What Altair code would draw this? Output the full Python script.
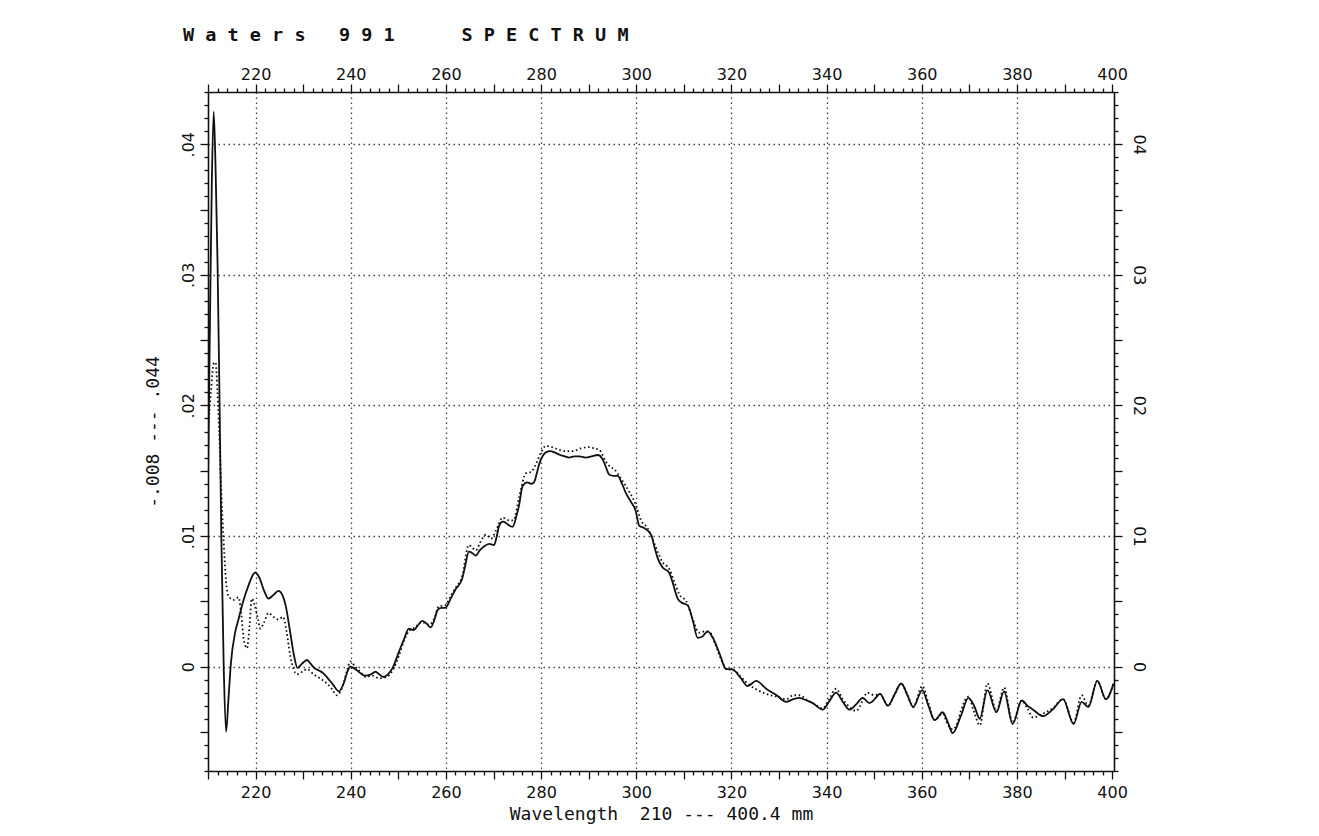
import altair as alt
import pandas as pd

# ---- data (wavelength nm, absorbance) ----
solid_nm = [210.0, 210.4, 210.8, 211.2, 211.6, 212.0, 212.4, 212.8, 213.3, 213.8, 214.3, 214.8,
            215.7, 216.4, 217.4, 218.5, 219.9, 220.8, 221.8, 222.7, 223.8, 224.8, 225.6, 226.3,
            227.2, 228.0, 228.8, 229.7, 230.8, 231.6, 232.3, 233.3, 234.2, 235.2, 236.3, 237.5,
            238.5, 239.3, 239.9, 240.5, 241.0, 242.0, 243.1, 244.2, 245.2, 246.0, 246.9, 247.8,
            248.8, 250.1, 251.2, 252.2, 253.2, 254.2, 255.0, 255.9, 256.8, 257.6, 258.2, 259.0,
            259.9, 261.0, 262.0, 263.4, 264.1, 264.8, 265.5, 266.3, 267.1, 268.0, 269.1, 270.1,
            270.7, 271.2, 272.0, 272.6, 273.3, 274.0, 274.8, 275.4, 276.1, 277.1, 278.0, 278.5,
            279.1, 279.6, 280.3, 281.0, 282.0, 282.8, 284.0, 285.0, 285.9, 287.0, 288.0, 289.4,
            290.6, 291.9, 292.9, 293.6, 294.3, 295.2, 296.1, 297.0, 297.8, 298.9, 299.9, 300.6,
            301.7, 303.1, 303.8, 304.5, 305.5, 306.9, 307.6, 308.7, 309.5, 310.8, 311.9, 312.9,
            313.9, 315.0, 316.1, 317.5, 318.9, 319.8, 320.6, 322.0, 323.4, 325.2, 327.3, 329.5,
            331.5, 333.0, 334.3, 335.8, 337.1, 339.2, 340.5, 342.0, 343.4, 344.8, 346.2, 347.6,
            349.0, 350.1, 351.2, 352.9, 354.2, 355.7, 357.0, 358.2, 360.1, 361.4, 362.7, 364.4,
            365.4, 366.5, 368.2, 369.8, 371.0, 372.2, 373.8, 375.7, 377.3, 379.1, 381.0, 382.2,
            383.4, 385.5, 387.5, 389.7, 391.9, 393.6, 395.0, 396.9, 398.7, 400.3]
solid_abs = [0.0140, 0.0260, 0.0370, 0.0425, 0.0380, 0.0310, 0.0210, 0.0100, 0.0000, -0.0050, -0.0025, 0.0002,
             0.0026, 0.0036, 0.0050, 0.0062, 0.0072, 0.0068, 0.0058, 0.0052, 0.0055, 0.0058, 0.0055, 0.0047,
             0.0028, 0.0010, -0.0001, 0.0002, 0.0005, 0.0002, -0.0001, -0.0003, -0.0005, -0.0009, -0.0014, -0.0019,
             -0.0013, -0.0004, 0.0000, -0.0001, -0.0002, -0.0005, -0.0007, -0.0006, -0.0004, -0.0006, -0.0008, -0.0006,
             -0.0001, 0.0011, 0.0021, 0.0029, 0.0028, 0.0032, 0.0035, 0.0033, 0.0030, 0.0036, 0.0043, 0.0045,
             0.0045, 0.0052, 0.0059, 0.0067, 0.0078, 0.0088, 0.0087, 0.0085, 0.0089, 0.0092, 0.0094, 0.0093,
             0.0100, 0.0108, 0.0111, 0.0110, 0.0108, 0.0107, 0.0115, 0.0124, 0.0138, 0.0141, 0.0140, 0.0141,
             0.0148, 0.0155, 0.0161, 0.0164, 0.0165, 0.0164, 0.0162, 0.0161, 0.0160, 0.0161, 0.0161, 0.0160,
             0.0161, 0.0162, 0.0159, 0.0153, 0.0147, 0.0146, 0.0146, 0.0140, 0.0133, 0.0126, 0.0119, 0.0108,
             0.0106, 0.0101, 0.0092, 0.0083, 0.0076, 0.0072, 0.0065, 0.0052, 0.0049, 0.0047, 0.0035, 0.0022,
             0.0023, 0.0027, 0.0022, 0.0010, -0.0002, -0.0002, -0.0003, -0.0009, -0.0015, -0.0011, -0.0017, -0.0022,
             -0.0027, -0.0025, -0.0024, -0.0026, -0.0028, -0.0033, -0.0027, -0.0020, -0.0027, -0.0033, -0.0029, -0.0024,
             -0.0028, -0.0025, -0.0021, -0.0030, -0.0022, -0.0013, -0.0022, -0.0031, -0.0018, -0.0030, -0.0041, -0.0035,
             -0.0042, -0.0051, -0.0038, -0.0024, -0.0030, -0.0040, -0.0018, -0.0035, -0.0019, -0.0044, -0.0026, -0.0030,
             -0.0033, -0.0038, -0.0033, -0.0025, -0.0044, -0.0027, -0.0031, -0.0011, -0.0025, -0.0013]

dotted_nm = [210.0, 210.6, 211.2, 211.6, 212.0, 212.4, 212.9, 213.3, 213.8, 214.3, 215.4, 216.4,
             217.0, 217.5, 218.2, 218.7, 219.2, 219.9, 220.5, 221.0, 221.8, 222.7, 223.8, 224.8,
             225.8, 226.5, 227.3, 228.0, 228.7, 229.8, 230.8, 232.2, 233.5, 235.0, 236.0, 237.1,
             238.3, 239.3, 239.9, 240.9, 242.0, 243.1, 244.5, 246.0, 247.5, 248.8, 250.1, 251.2,
             252.2, 253.5, 255.0, 256.5, 257.6, 258.5, 259.9, 261.0, 262.0, 263.4, 264.8, 266.3,
             267.2, 268.4, 269.5, 270.5, 271.9, 273.3, 274.2, 275.4, 276.8, 277.9, 278.9, 280.0,
             281.0, 282.3, 283.8, 285.3, 286.7, 288.3, 290.1, 291.2, 292.2, 293.6, 294.5, 295.4,
             296.6, 297.5, 298.5, 299.9, 301.0, 302.4, 303.5, 304.5, 305.5, 306.9, 308.0, 309.1,
             310.5, 311.9, 313.2, 314.5, 315.5, 316.5, 318.0, 319.0, 320.6, 322.0, 323.4, 325.5,
             327.3, 329.5, 331.5, 333.0, 334.3, 336.0, 337.1, 339.2, 340.5, 342.0, 343.4, 344.8,
             346.2, 347.6, 348.5, 350.1, 351.2, 352.9, 354.2, 355.7, 357.0, 358.2, 360.1, 361.4,
             362.7, 364.4, 365.4, 366.5, 367.5, 368.3, 369.8, 371.0, 372.2, 373.8, 375.7, 377.3,
             379.1, 381.0, 382.2, 383.4, 385.5, 387.5, 389.7, 391.9, 393.6, 395.0, 396.9, 398.7, 400.3]
dotted_abs = [0.0180, 0.0210, 0.0232, 0.0233, 0.0210, 0.0175, 0.0125, 0.0095, 0.0065, 0.0054, 0.0051, 0.0053,
              0.0040, 0.0021, 0.0014, 0.0030, 0.0052, 0.0046, 0.0036, 0.0029, 0.0034, 0.0041, 0.0038, 0.0036,
              0.0038, 0.0027, 0.0008, -0.0002, -0.0006, -0.0004, -0.0002, -0.0006, -0.0009, -0.0013, -0.0017, -0.0022,
              -0.0015, -0.0002, 0.0004, 0.0000, -0.0004, -0.0008, -0.0007, -0.0009, -0.0008, -0.0003, 0.0008, 0.0020,
              0.0027, 0.0030, 0.0034, 0.0032, 0.0037, 0.0046, 0.0047, 0.0054, 0.0060, 0.0069, 0.0093, 0.0089,
              0.0095, 0.0101, 0.0098, 0.0104, 0.0114, 0.0112, 0.0112, 0.0130, 0.0148, 0.0149, 0.0155, 0.0164,
              0.0169, 0.0168, 0.0166, 0.0165, 0.0165, 0.0167, 0.0168, 0.0167, 0.0166, 0.0157, 0.0153, 0.0151,
              0.0145, 0.0140, 0.0134, 0.0124, 0.0112, 0.0106, 0.0097, 0.0088, 0.0080, 0.0075, 0.0065, 0.0055,
              0.0050, 0.0036, 0.0026, 0.0027, 0.0026, 0.0018, 0.0004, -0.0002, -0.0003, -0.0008, -0.0013, -0.0018,
              -0.0021, -0.0023, -0.0025, -0.0022, -0.0022, -0.0026, -0.0028, -0.0032, -0.0025, -0.0017, -0.0025, -0.0031,
              -0.0034, -0.0026, -0.0020, -0.0022, -0.0021, -0.0030, -0.0022, -0.0013, -0.0022, -0.0031, -0.0015, -0.0028,
              -0.0041, -0.0036, -0.0044, -0.0048, -0.0043, -0.0033, -0.0023, -0.0035, -0.0045, -0.0013, -0.0034, -0.0016,
              -0.0043, -0.0026, -0.0032, -0.0039, -0.0036, -0.0032, -0.0025, -0.0043, -0.0022, -0.0030, -0.0011, -0.0025, -0.0013]

title_text = "W a t e r s   9 9 1      S P E C T R U M".replace(" ", "\u00a0")
x_title = "Wavelength  210 --- 400.4 mm".replace(" ", "\u00a0")
y_title = "-.008 --- .044".replace(" ", "\u00a0")

x_domain = [210, 400.4]
y_domain = [-0.008, 0.044]
x_tick_values = [210 + 2 * i for i in range(96)]
y_tick_values = [round(-0.008 + 0.001 * i, 3) for i in range(53)]

solid_df = pd.DataFrame({"nm": solid_nm, "abs": solid_abs})
dotted_df = pd.DataFrame({"nm": dotted_nm, "abs": dotted_abs})

LABEL_FONT = "DejaVu Sans"
MONO = "DejaVu Sans Mono"
INK = "#111111"
GRID = "#444444"

x_major = {"condition": {"test": "datum.value % 10 === 0", "value": 8}, "value": 4}
y_major = {"condition": {"test": "abs(round(datum.value * 1000)) % 5 === 0", "value": 8}, "value": 4}
x_grid_op = {"condition": {"test": "datum.value % 20 === 0 && datum.value < 400", "value": 1}, "value": 0}
y_grid_op = {"condition": {"test": "abs(round(datum.value * 1000)) % 10 === 0 && datum.value > -0.0005", "value": 1}, "value": 0}

x_label_expr = "datum.value % 20 === 0 ? format(datum.value, 'd') : ''"
y_left_expr = ("abs(round(datum.value * 1000)) % 10 === 0 && datum.value > -0.0005 ? "
               "(abs(datum.value) < 0.0005 ? '0' : replace(format(datum.value, '.2f'), '0.', '.')) : ''")
y_right_expr = ("abs(round(datum.value * 1000)) % 10 === 0 && datum.value > -0.0005 ? "
                "(abs(datum.value) < 0.0005 ? '0' : replace(format(datum.value, '.2f'), '0.', '')) : ''")

x_scale = alt.Scale(domain=x_domain, nice=False, zero=False)
y_scale = alt.Scale(domain=y_domain, nice=False, zero=False)

common_axis = dict(domainColor=INK, domainWidth=1.6, tickColor=INK, tickWidth=1.3,
                   labelColor=INK, labelFont=LABEL_FONT, labelFontSize=16,
                   labelOverlap=False, labelFlush=False)

solid = alt.Chart(solid_df).mark_line(color=INK, strokeWidth=1.8, interpolate="monotone", clip=True).encode(
    x=alt.X("nm:Q", scale=x_scale, axis=alt.Axis(
        orient="bottom", values=x_tick_values, tickSize=x_major, labelExpr=x_label_expr,
        labelPadding=5, grid=True, gridColor=GRID, gridDash=[1.5, 3.5], gridWidth=1.3,
        gridOpacity=x_grid_op, title=x_title, titleFont=MONO, titleFontSize=18,
        titleFontWeight="normal", titleColor=INK, titlePadding=5, **common_axis)),
    y=alt.Y("abs:Q", scale=y_scale, axis=alt.Axis(
        orient="left", values=y_tick_values, tickSize=y_major, labelExpr=y_left_expr,
        labelAngle=270, labelAlign="center", labelBaseline="bottom", labelPadding=4,
        grid=True, gridColor=GRID, gridDash=[1.5, 3.5], gridWidth=1.3, gridOpacity=y_grid_op,
        title=y_title, titleFont=MONO, titleFontSize=18, titleFontWeight="normal",
        titleColor=INK, titlePadding=18, **common_axis)),
)

dotted = alt.Chart(dotted_df).mark_line(color=INK, strokeWidth=1.8, strokeDash=[1.6, 2.6],
                                        interpolate="monotone", clip=True).encode(
    x=alt.X("nm:Q", scale=x_scale, axis=alt.Axis(
        orient="top", values=x_tick_values, tickSize=x_major, labelExpr=x_label_expr,
        labelPadding=2, grid=False, title=None, **common_axis)),
    y=alt.Y("abs:Q", scale=y_scale, axis=alt.Axis(
        orient="right", values=y_tick_values, tickSize=y_major, labelExpr=y_right_expr,
        labelAngle=90, labelAlign="center", labelBaseline="bottom", labelPadding=8,
        grid=False, title=None, **common_axis)),
)

chart = alt.layer(solid, dotted).resolve_axis(x="independent", y="independent").properties(
    width=906,
    height=679,
    autosize=alt.AutoSizeParams(type="none"),
    padding={"left": 200, "top": 84, "right": 180, "bottom": 57},
    title=alt.TitleParams(text=title_text, anchor="start", frame="group", font=MONO, fontSize=18.5,
                          fontWeight="bold", color=INK, dx=-25, offset=22),
).configure_view(stroke=INK, strokeWidth=1.6).configure(background="white")

chart.save("out.html", embed_options={"renderer": "svg", "actions": False})
